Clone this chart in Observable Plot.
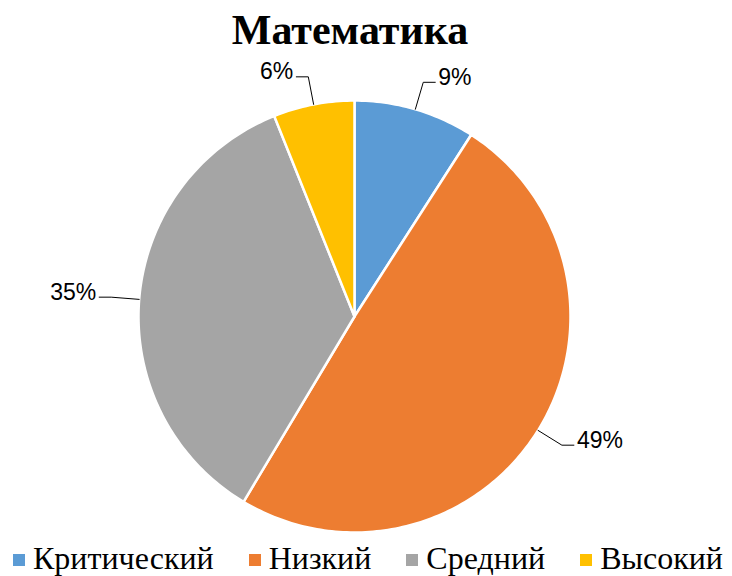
<!DOCTYPE html>
<html>
<head>
<meta charset="utf-8">
<script src="https://cdn.jsdelivr.net/npm/d3@7"></script>
<script src="https://cdn.jsdelivr.net/npm/@observablehq/plot@0.6"></script>
<style>
  html, body { margin: 0; padding: 0; background: #fff; }
  #wrap { position: relative; width: 732px; height: 576px; overflow: hidden; }
  #title { position: absolute; left: 0; top: 5px; width: 700px; text-align: center;
    font-family: "Liberation Serif", "Times New Roman", serif; font-weight: bold; font-size: 42px; line-height: 50px; color: #000; }
  #chart { position: absolute; left: 0; top: 58px; }
  #legend { position: absolute; left: 13px; top: 542px; display: flex; align-items: center;
    font-family: "Liberation Serif", "Times New Roman", serif; font-size: 32px; line-height: 33px; color: #000; white-space: nowrap; }
  .item { display: flex; align-items: center; margin-right: 35px; }
  .sw { width: 12px; height: 12px; margin-right: 8px; margin-top: 3px; flex: none; }
</style>
</head>
<body>
<div id="wrap">
  <div id="title"></div>
  <div id="chart"></div>
  <div id="legend"></div>
</div>
<script>
const title = "Математика";
const categories = ["Критический", "Низкий", "Средний", "Высокий"];
const values = [9, 49, 35, 6];
const labels = ["9%", "49%", "35%", "6%"];
const colors = ["#5B9BD5", "#ED7D31", "#A5A5A5", "#FFC000"];

document.getElementById("title").textContent = title;

const data = categories.map((c, i) => ({category: c, value: values[i], label: labels[i], color: colors[i]}));

// layout
const W = 732, H = 478, cx = 354, cy = 258, R = 216;
const xDomain = [-cx / R, (W - cx) / R];
const yDomain = [-(H - cy) / R, cy / R];

const arcs = d3.pie().sort(null).value(d => d.value)(data);
const pt = (a, r) => [r * Math.sin(a), r * Math.cos(a)];

// slice polygons
const slicePts = [];
arcs.forEach((a, i) => {
  const n = Math.max(4, Math.ceil((a.endAngle - a.startAngle) / (Math.PI / 180)));
  const poly = [[0, 0]];
  for (let k = 0; k <= n; k++) {
    const t = a.startAngle + (a.endAngle - a.startAngle) * k / n;
    poly.push(pt(t, 1));
  }
  poly.push([0, 0]);
  poly.forEach(([x, y]) => slicePts.push({x, y, key: a.data.category, color: a.data.color}));
});

// leaders and labels
const leaderPts = [];
const labelPts = [];
const tail = 12 / R;
arcs.forEach(a => {
  const m = (a.startAngle + a.endAngle) / 2;
  const side = Math.sin(m) >= 0 ? 1 : -1;
  const p0 = pt(m, 1.0);
  const p1 = pt(m, 1.13);
  const p2 = [p1[0] + side * tail, p1[1]];
  [p0, p1, p2].forEach(([x, y]) => leaderPts.push({x, y, key: a.data.category}));
  labelPts.push({x: p2[0], y: p2[1], label: a.data.label, side});
});

const plot = Plot.plot({
  width: W,
  height: H,
  margin: 0,
  x: {domain: xDomain, axis: null},
  y: {domain: yDomain, axis: null},
  style: {background: "white"},
  marks: [
    Plot.line(slicePts, {x: "x", y: "y", z: "key", fill: "color", stroke: "white", strokeWidth: 2.5, strokeLinejoin: "round", curve: "linear"}),
    Plot.line(leaderPts, {x: "x", y: "y", z: "key", stroke: "black", strokeWidth: 1}),
    Plot.text(labelPts.filter(d => d.side > 0), {x: "x", y: "y", text: "label", textAnchor: "start", dx: 3, dy: -5,
      fontFamily: "Liberation Sans, Arial, sans-serif", fontSize: 23, fill: "#000"}),
    Plot.text(labelPts.filter(d => d.side < 0), {x: "x", y: "y", text: "label", textAnchor: "end", dx: -3, dy: -5,
      fontFamily: "Liberation Sans, Arial, sans-serif", fontSize: 23, fill: "#000"})
  ]
});
document.getElementById("chart").appendChild(plot);

const legend = document.getElementById("legend");
data.forEach(d => {
  const item = document.createElement("div");
  item.className = "item";
  const sw = document.createElement("div");
  sw.className = "sw";
  sw.style.background = d.color;
  const tx = document.createElement("span");
  tx.textContent = d.category;
  item.appendChild(sw);
  item.appendChild(tx);
  legend.appendChild(item);
});
</script>
</body>
</html>
